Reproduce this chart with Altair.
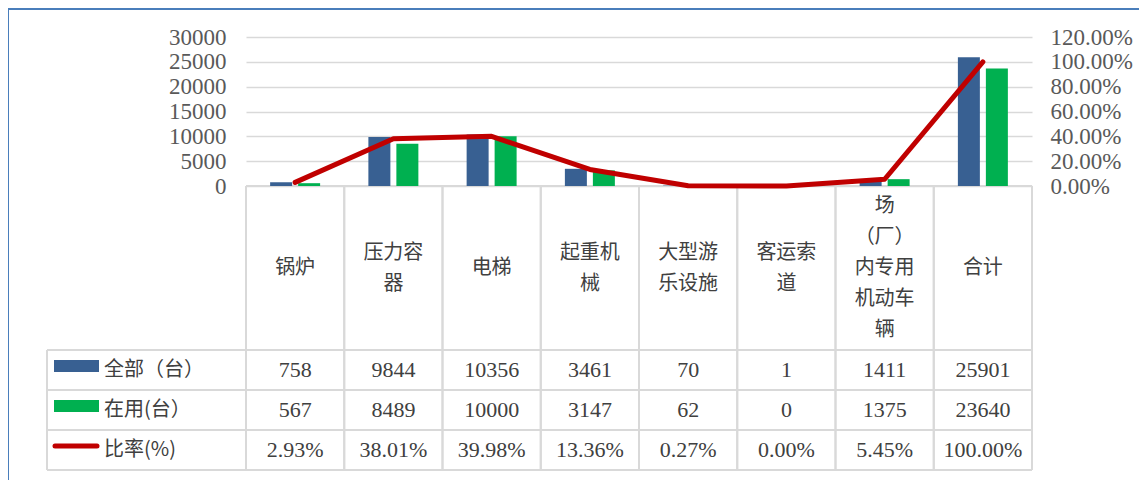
import altair as alt
import pandas as pd

# ---------------- data ----------------
categories = ["锅炉", "压力容器", "电梯", "起重机械", "大型游乐设施", "客运索道",
              "场（厂）内专用机动车辆", "合计"]
header_labels = ["锅炉", "压力容\n器", "电梯", "起重机\n械", "大型游\n乐设施", "客运索\n道",
                 "场\n（厂）\n内专用\n机动车\n辆", "合计"]
total_units = [758, 9844, 10356, 3461, 70, 1, 1411, 25901]
in_use_units = [567, 8489, 10000, 3147, 62, 0, 1375, 23640]
rate_pct = [2.93, 38.01, 39.98, 13.36, 0.27, 0.00, 5.45, 100.00]
row_ids = ["全部", "在用", "比率"]
row_labels = ["全部（台）", "在用(台）", "比率(%)"]
left_ticks = [0, 5000, 10000, 15000, 20000, 25000, 30000]
right_ticks = [0, 0.2, 0.4, 0.6, 0.8, 1.0, 1.2]

# ---------------- layout / style ----------------
W = 786          # plot width (x 246 -> 1032 on page)
PLOT_H = 149     # bar area height
HEAD_B = 313     # bottom of header row
H = 433          # bottom of table
LEG_L = -199     # left edge of legend column
LINE_H = 31
BLUE, GREEN, RED = "#386092", "#00B050", "#C00000"
GRID = "#D9D9D9"
TXT = "#404040"

bars_df = pd.DataFrame(
    [{"cat": c, "series": "全部", "value": v} for c, v in zip(categories, total_units)]
    + [{"cat": c, "series": "在用", "value": v} for c, v in zip(categories, in_use_units)]
)
line_df = pd.DataFrame({"cat": categories, "rate": [r / 100 for r in rate_pct]})
table_df = pd.DataFrame(
    [{"cat": c, "row": "全部", "text": str(v)} for c, v in zip(categories, total_units)]
    + [{"cat": c, "row": "在用", "text": str(v)} for c, v in zip(categories, in_use_units)]
    + [{"cat": c, "row": "比率", "text": f"{r:.2f}%"} for c, r in zip(categories, rate_pct)]
)
header_df = pd.DataFrame({"cat": categories, "label": header_labels,
                          "nlines": [lab.count("\n") + 1 for lab in header_labels]})
rows_df = pd.DataFrame({"row": row_ids, "label": row_labels})
cat_df = pd.DataFrame({"cat": categories})
one = pd.DataFrame({"a": [0]})

xscale = alt.Scale(domain=categories, paddingInner=0, paddingOuter=0)
rowscale = alt.Scale(domain=row_ids, range=[HEAD_B, H], paddingInner=0, paddingOuter=0)


def X(**kw):
    return alt.X("cat:N", scale=xscale, axis=None, **kw)


def RowY(**kw):
    return alt.Y("row:N", scale=rowscale, axis=None, **kw)


frame = alt.Chart(one).mark_rect(filled=False, stroke="#4A7EBB", strokeWidth=2).encode(
    x=alt.value(-238), x2=alt.value(W + 300), y=alt.value(-28), y2=alt.value(H + 300)
)

rule_style = dict(color=GRID, strokeWidth=2)
vlines0 = alt.Chart(cat_df).mark_rule(**rule_style).encode(
    x=X(bandPosition=0), y=alt.value(PLOT_H), y2=alt.value(H))
vlines1 = alt.Chart(cat_df).mark_rule(**rule_style).encode(
    x=X(bandPosition=1), y=alt.value(PLOT_H), y2=alt.value(H))
leftborder = alt.Chart(one).mark_rule(**rule_style).encode(
    x=alt.value(LEG_L), y=alt.value(HEAD_B), y2=alt.value(H))
hlines0 = alt.Chart(rows_df).mark_rule(**rule_style).encode(
    y=RowY(bandPosition=0), x=alt.value(LEG_L), x2=alt.value(W))
hlines1 = alt.Chart(rows_df).mark_rule(**rule_style).encode(
    y=RowY(bandPosition=1), x=alt.value(LEG_L), x2=alt.value(W))
topline = alt.Chart(one).mark_rule(**rule_style).encode(
    y=alt.value(PLOT_H), x=alt.value(0), x2=alt.value(W))

color_scale = alt.Scale(domain=["全部", "在用"], range=[BLUE, GREEN])

bars = alt.Chart(bars_df).mark_bar().encode(
    x=X(),
    xOffset=alt.XOffset("series:N", scale=alt.Scale(domain=["全部", "在用"],
                                                     paddingInner=0.2143, paddingOuter=0.862)),
    y=alt.Y("value:Q",
            scale=alt.Scale(domain=[0, 30000], range=[PLOT_H, 0], nice=False),
            axis=alt.Axis(orient="left", values=left_ticks, format="d", grid=True,
                          gridColor=GRID, gridWidth=1.5, domain=False, ticks=False,
                          labelPadding=20, labelFontSize=23, labelFont="Liberation Serif",
                          labelColor="#595959", title=None)),
    color=alt.Color("series:N", scale=color_scale, legend=None),
)

line = alt.Chart(line_df).mark_line(color=RED, strokeWidth=5, strokeCap="round",
                                    strokeJoin="round").encode(
    x=X(),
    y=alt.Y("rate:Q",
            scale=alt.Scale(domain=[0, 1.2], range=[PLOT_H, 0], nice=False),
            axis=alt.Axis(orient="right", values=right_ticks, format=".2%", grid=False,
                          domain=False, ticks=False, labelPadding=18, labelFontSize=23,
                          labelFont="Liberation Serif", labelColor="#595959", title=None)),
)

header_layers = []
for n in sorted(set(header_df["nlines"])):
    header_layers.append(
        alt.Chart(header_df).transform_filter(alt.datum.nlines == int(n)).mark_text(
            font="Noto Sans CJK SC", fontSize=20, lineHeight=LINE_H, lineBreak="\n",
            color=TXT, baseline="middle", dy=-(int(n) - 1) * LINE_H / 2
        ).encode(x=X(), y=alt.value((PLOT_H + HEAD_B) / 2), text="label:N")
    )

cells = alt.Chart(table_df).mark_text(
    font="Liberation Serif", fontSize=22, color=TXT, baseline="middle").encode(
    x=X(), y=RowY(), text="text:N")

leg_text = alt.Chart(rows_df).mark_text(
    font="Noto Sans CJK SC", fontSize=20, color=TXT, align="left", baseline="middle").encode(
    x=alt.value(-142), y=RowY(), text="label:N")

leg_bars = alt.Chart(rows_df).transform_filter(alt.datum.row != "比率").mark_rule(
    strokeWidth=12, yOffset=-4).encode(
    x=alt.value(-192), x2=alt.value(-147), y=RowY(bandPosition=0.5),
    color=alt.Color("row:N", scale=color_scale, legend=None))

leg_line = alt.Chart(rows_df).transform_filter(alt.datum.row == "比率").mark_rule(
    strokeWidth=5, strokeCap="round", color=RED, yOffset=-4).encode(
    x=alt.value(-191), x2=alt.value(-149), y=RowY(bandPosition=0.5))

chart = alt.layer(
    frame, vlines0, vlines1, leftborder, hlines0, hlines1, topline,
    bars, line, *header_layers, cells, leg_text, leg_bars, leg_line
).resolve_scale(y="independent").properties(
    width=W, height=H,
    autosize=alt.AutoSizeParams(type="none"),
    padding={"left": 238, "top": 29, "right": 107, "bottom": 10},
    background="white",
).configure_view(strokeWidth=0)

chart.save("out.html", embed_options={"renderer": "svg", "actions": False})
